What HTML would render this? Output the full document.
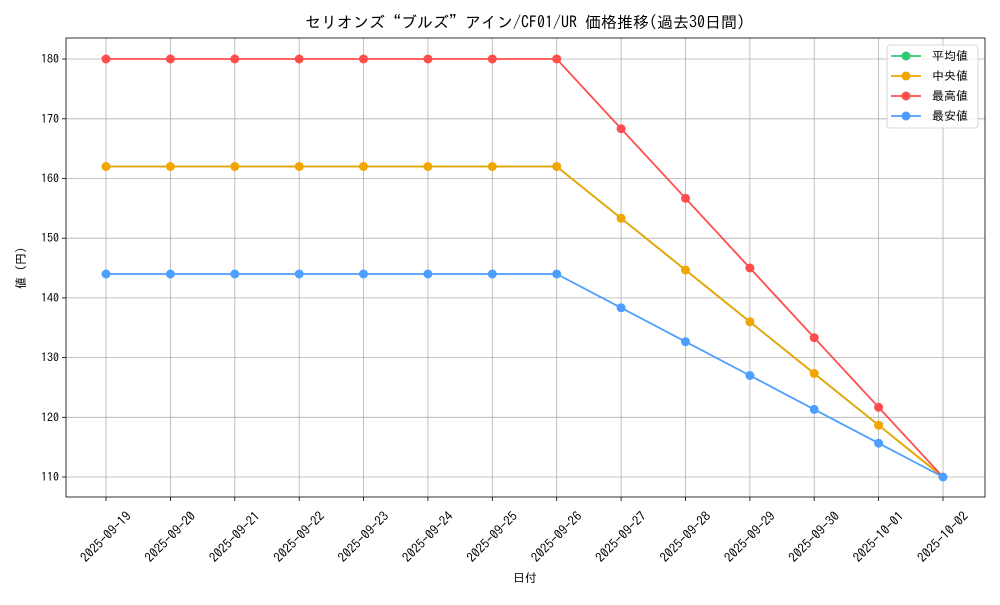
<!DOCTYPE html>
<html><head><meta charset="utf-8"><style>
body{margin:0;background:#fff}
svg text{font-family:"IPAGothic","Liberation Sans","Noto Sans CJK JP",sans-serif;fill:#000}
</style></head><body>
<svg width="1000" height="600" viewBox="0 0 1000 600" xmlns="http://www.w3.org/2000/svg">
<rect width="1000" height="600" fill="#fff"/>
<g stroke="#b0b0b0" stroke-width="0.8">
<line x1="106" y1="38" x2="106" y2="497"/><line x1="170.4" y1="38" x2="170.4" y2="497"/><line x1="234.8" y1="38" x2="234.8" y2="497"/><line x1="299.2" y1="38" x2="299.2" y2="497"/><line x1="363.5" y1="38" x2="363.5" y2="497"/><line x1="427.9" y1="38" x2="427.9" y2="497"/><line x1="492.3" y1="38" x2="492.3" y2="497"/><line x1="556.7" y1="38" x2="556.7" y2="497"/><line x1="621.1" y1="38" x2="621.1" y2="497"/><line x1="685.5" y1="38" x2="685.5" y2="497"/><line x1="749.9" y1="38" x2="749.9" y2="497"/><line x1="814.2" y1="38" x2="814.2" y2="497"/><line x1="878.6" y1="38" x2="878.6" y2="497"/><line x1="943" y1="38" x2="943" y2="497"/>
<line x1="66" y1="477" x2="985" y2="477"/><line x1="66" y1="417.3" x2="985" y2="417.3"/><line x1="66" y1="357.6" x2="985" y2="357.6"/><line x1="66" y1="297.9" x2="985" y2="297.9"/><line x1="66" y1="238.2" x2="985" y2="238.2"/><line x1="66" y1="178.5" x2="985" y2="178.5"/><line x1="66" y1="118.8" x2="985" y2="118.8"/><line x1="66" y1="59" x2="985" y2="59"/>
</g>
<rect x="66" y="38" width="919" height="459" fill="none" stroke="#000" stroke-width="0.8"/>
<g stroke="#000" stroke-width="0.8">
<line x1="62" y1="477" x2="66" y2="477"/><line x1="62" y1="417.3" x2="66" y2="417.3"/><line x1="62" y1="357.6" x2="66" y2="357.6"/><line x1="62" y1="297.9" x2="66" y2="297.9"/><line x1="62" y1="238.2" x2="66" y2="238.2"/><line x1="62" y1="178.5" x2="66" y2="178.5"/><line x1="62" y1="118.8" x2="66" y2="118.8"/><line x1="62" y1="59" x2="66" y2="59"/>
<line x1="106" y1="497" x2="106" y2="501"/><line x1="170.4" y1="497" x2="170.4" y2="501"/><line x1="234.8" y1="497" x2="234.8" y2="501"/><line x1="299.2" y1="497" x2="299.2" y2="501"/><line x1="363.5" y1="497" x2="363.5" y2="501"/><line x1="427.9" y1="497" x2="427.9" y2="501"/><line x1="492.3" y1="497" x2="492.3" y2="501"/><line x1="556.7" y1="497" x2="556.7" y2="501"/><line x1="621.1" y1="497" x2="621.1" y2="501"/><line x1="685.5" y1="497" x2="685.5" y2="501"/><line x1="749.9" y1="497" x2="749.9" y2="501"/><line x1="814.2" y1="497" x2="814.2" y2="501"/><line x1="878.6" y1="497" x2="878.6" y2="501"/><line x1="943" y1="497" x2="943" y2="501"/>
</g>
<g font-size="12" text-anchor="end">
<text x="59" y="481">110</text><text x="59" y="421.3">120</text><text x="59" y="361.6">130</text><text x="59" y="301.9">140</text><text x="59" y="242.2">150</text><text x="59" y="182.5">160</text><text x="59" y="122.8">170</text><text x="59" y="63">180</text>
</g>
<g font-size="13" text-anchor="middle">
<text transform="translate(109,540) rotate(-45)">2025-09-19</text>
<text transform="translate(173.4,540) rotate(-45)">2025-09-20</text>
<text transform="translate(237.8,540) rotate(-45)">2025-09-21</text>
<text transform="translate(302.2,540) rotate(-45)">2025-09-22</text>
<text transform="translate(366.5,540) rotate(-45)">2025-09-23</text>
<text transform="translate(430.9,540) rotate(-45)">2025-09-24</text>
<text transform="translate(495.3,540) rotate(-45)">2025-09-25</text>
<text transform="translate(559.7,540) rotate(-45)">2025-09-26</text>
<text transform="translate(624.1,540) rotate(-45)">2025-09-27</text>
<text transform="translate(688.5,540) rotate(-45)">2025-09-28</text>
<text transform="translate(752.9,540) rotate(-45)">2025-09-29</text>
<text transform="translate(817.2,540) rotate(-45)">2025-09-30</text>
<text transform="translate(881.6,540) rotate(-45)">2025-10-01</text>
<text transform="translate(946,540) rotate(-45)">2025-10-02</text>
</g>
<text x="525" y="582" font-size="12" text-anchor="middle">日付</text>
<text transform="translate(25,268) rotate(-90)" font-size="12" text-anchor="middle">値 (円)</text>
<text x="525" y="28" font-size="16" text-anchor="middle">セリオンズ“ブルズ”アイン/CF01/UR 価格推移(過去30日間)</text>
<g fill="none" stroke-width="1.8">
<polyline stroke="#2ecc71" points="106,166.5 170.4,166.5 234.8,166.5 299.2,166.5 363.5,166.5 427.9,166.5 492.3,166.5 556.7,166.5 621.1,218.3 685.5,270 749.9,321.8 814.2,373.5 878.6,425.2 943,477"/>
<polyline stroke="#f0a500" points="106,166.5 170.4,166.5 234.8,166.5 299.2,166.5 363.5,166.5 427.9,166.5 492.3,166.5 556.7,166.5 621.1,218.3 685.5,270 749.9,321.8 814.2,373.5 878.6,425.2 943,477"/>
<polyline stroke="#ff4d4d" points="106,59 170.4,59 234.8,59 299.2,59 363.5,59 427.9,59 492.3,59 556.7,59 621.1,128.7 685.5,198.3 749.9,268 814.2,337.7 878.6,407.3 943,477"/>
<polyline stroke="#4d9fff" points="106,274 170.4,274 234.8,274 299.2,274 363.5,274 427.9,274 492.3,274 556.7,274 621.1,307.8 685.5,341.7 749.9,375.5 814.2,409.4 878.6,443.2 943,477"/>
</g>
<g fill="#f0a500">
<circle cx="106" cy="166.5" r="4.5"/><circle cx="170.4" cy="166.5" r="4.5"/><circle cx="234.8" cy="166.5" r="4.5"/><circle cx="299.2" cy="166.5" r="4.5"/><circle cx="363.5" cy="166.5" r="4.5"/><circle cx="427.9" cy="166.5" r="4.5"/><circle cx="492.3" cy="166.5" r="4.5"/><circle cx="556.7" cy="166.5" r="4.5"/><circle cx="621.1" cy="218.3" r="4.5"/><circle cx="685.5" cy="270" r="4.5"/><circle cx="749.9" cy="321.8" r="4.5"/><circle cx="814.2" cy="373.5" r="4.5"/><circle cx="878.6" cy="425.2" r="4.5"/>
</g>
<g fill="#ff4d4d">
<circle cx="106" cy="59" r="4.5"/><circle cx="170.4" cy="59" r="4.5"/><circle cx="234.8" cy="59" r="4.5"/><circle cx="299.2" cy="59" r="4.5"/><circle cx="363.5" cy="59" r="4.5"/><circle cx="427.9" cy="59" r="4.5"/><circle cx="492.3" cy="59" r="4.5"/><circle cx="556.7" cy="59" r="4.5"/><circle cx="621.1" cy="128.7" r="4.5"/><circle cx="685.5" cy="198.3" r="4.5"/><circle cx="749.9" cy="268" r="4.5"/><circle cx="814.2" cy="337.7" r="4.5"/><circle cx="878.6" cy="407.3" r="4.5"/>
</g>
<g fill="#4d9fff">
<circle cx="106" cy="274" r="4.5"/><circle cx="170.4" cy="274" r="4.5"/><circle cx="234.8" cy="274" r="4.5"/><circle cx="299.2" cy="274" r="4.5"/><circle cx="363.5" cy="274" r="4.5"/><circle cx="427.9" cy="274" r="4.5"/><circle cx="492.3" cy="274" r="4.5"/><circle cx="556.7" cy="274" r="4.5"/><circle cx="621.1" cy="307.8" r="4.5"/><circle cx="685.5" cy="341.7" r="4.5"/><circle cx="749.9" cy="375.5" r="4.5"/><circle cx="814.2" cy="409.4" r="4.5"/><circle cx="878.6" cy="443.2" r="4.5"/><circle cx="943" cy="477" r="4.5"/>
</g>
<rect x="887" y="45" width="91" height="83" rx="3" fill="#fff" fill-opacity="0.8" stroke="#ccc" stroke-width="0.8"/>
<g stroke-width="1.8">
<line x1="891" y1="56" x2="921" y2="56" stroke="#2ecc71"/><circle cx="906" cy="56" r="4.5" fill="#2ecc71"/>
<line x1="891" y1="76" x2="921" y2="76" stroke="#f0a500"/><circle cx="906" cy="76" r="4.5" fill="#f0a500"/>
<line x1="891" y1="96" x2="921" y2="96" stroke="#ff4d4d"/><circle cx="906" cy="96" r="4.5" fill="#ff4d4d"/>
<line x1="891" y1="116" x2="921" y2="116" stroke="#4d9fff"/><circle cx="906" cy="116" r="4.5" fill="#4d9fff"/>
</g>
<g font-size="12">
<text x="932" y="60">平均値</text><text x="932" y="80"> 中央値</text><text x="932" y="100">最高値</text><text x="932" y="120">最安値</text>
</g>
</svg>
</body></html>
